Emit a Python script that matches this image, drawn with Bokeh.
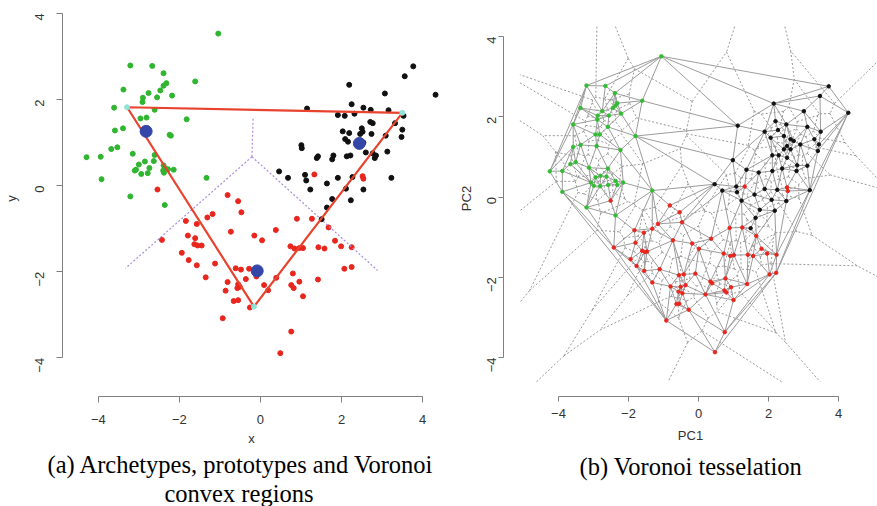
import math
from bokeh.plotting import figure
from bokeh.models import Range1d, FixedTicker, Title
from bokeh.layouts import row
from bokeh.embed import file_html
from bokeh.resources import INLINE

# ---------------- Panel (a) data ----------------
green_x = [-1.04, -3.21, -2.67, -2.39, -2.32, -2.39, -2.47, -1.61, -3.38, -2.76, -2.90, -2.91, -2.55, -2.18,
           -3.61, -2.61, -2.96, -2.81, -1.82, -3.59, -3.39, -2.24, -2.21, -3.68, -3.53, -4.29, -3.94, -3.15,
           -2.61, -3.00, -2.85, -3.10, -3.07, -2.63, -2.74, -2.94, -2.78, -2.39, -2.40, -2.35, -2.38, -2.28,
           -2.14, -3.92, -1.33, -3.21, -2.36]
green_y = [3.53, 2.79, 2.78, 2.61, 2.38, 2.32, 2.21, 2.42, 2.23, 2.15, 2.04, 1.94, 2.05, 2.09,
           1.81, 1.76, 1.56, 1.58, 1.54, 1.28, 1.33, 1.18, 1.16, 0.85, 0.89, 0.66, 0.67, 0.74,
           0.71, 0.49, 0.56, 0.35, 0.37, 0.57, 0.41, 0.27, 0.29, 0.47, 0.35, 0.40, 0.30, 0.38,
           0.37, 0.15, 0.18, -0.25, -0.45]

black_x = [3.77, 3.56, 2.19, 4.32, 3.07, 1.15, 2.25, 2.54, 2.72, 3.16, 1.91, 2.08, 2.32, 3.53, 2.71, 2.77,
           3.32, 2.50, 2.52, 2.46, 2.03, 2.19, 2.74, 3.09, 3.50, 3.48, 2.09, 2.16, 1.01, 1.02, 2.54, 2.60,
           2.77, 2.85, 2.82, 3.13, 1.42, 1.39, 1.80, 1.77, 2.13, 2.22, 0.46, 0.68, 1.10, 1.13, 1.64, 1.91,
           2.27, 3.23, 1.23, 2.11, 2.54, 1.77, 2.23, 1.64, 1.51]
black_y = [2.77, 2.54, 2.34, 2.11, 2.14, 1.79, 1.89, 1.81, 1.76, 1.75, 1.64, 1.62, 1.67, 1.62, 1.48, 1.45,
           1.45, 1.33, 1.25, 1.20, 1.26, 1.22, 1.20, 1.16, 1.30, 1.13, 1.08, 1.02, 0.94, 0.87, 1.00, 0.77,
           0.75, 0.70, 0.64, 0.79, 0.68, 0.64, 0.70, 0.61, 0.68, 0.70, 0.33, 0.18, 0.25, 0.12, 0.05, 0.18,
           0.20, 0.18, -0.09, -0.07, -0.09, -0.31, -0.34, -0.51, -0.78]

red_x = [-2.54, -0.81, -0.55, -0.47, -1.18, -1.31, -1.84, -1.57, -1.79, -1.61, -1.63, -1.55, -1.45, -2.43,
         -0.73, -0.15, 0.04, 0.38, -1.94, 0.90, 1.27, 1.68, 1.33, 2.52, 2.54, 0.74, 0.84, 0.96, 1.05, 1.43,
         1.58, 1.84, 1.99, 2.25, -1.77, -1.57, -1.12, -1.35, -0.61, -0.48, -0.28, -0.10, -0.36, -0.81,
         -0.55, -0.51, -0.57, -0.86, -0.66, -0.55, -0.26, -0.93, 0.09, 0.19, 0.39, 0.80, 0.96, 0.76, 0.82,
         1.05, 1.42, 2.07, 2.25, 0.76, 0.49]
red_y = [-0.09, -0.22, -0.36, -0.62, -0.66, -0.74, -0.82, -0.89, -1.16, -1.22, -1.36, -1.39, -1.39, -1.26,
         -1.07, -1.16, -1.27, -1.03, -1.56, -0.77, -0.77, -0.97, 0.26, 0.22, 0.16, -1.41, -1.46, -1.45, -1.45,
         -1.43, -1.46, -1.28, -1.41, -1.43, -1.73, -1.85, -1.81, -2.13, -1.92, -1.95, -1.93, -2.11, -2.17,
         -2.24, -2.29, -2.35, -2.38, -2.44, -2.68, -2.66, -2.83, -3.08, -2.31, -2.43, -2.14, -2.04, -2.23,
         -2.31, -2.38, -2.57, -2.18, -1.93, -1.89, -3.39, -3.89]

prototype_x = [-2.82, 2.44, -0.08]
prototype_y = [1.26, 0.98, -1.98]
archetype_x = [-3.29, 3.50, -0.16]
archetype_y = [1.82, 1.69, -2.81]
voronoi_center = (-0.21, 0.67)
voronoi_end_x = [-0.18, -3.33, 2.89]
voronoi_end_y = [1.58, -1.92, -1.97]

# ---------------- Panel (b) data ----------------
pc_green_x = [-1.06, -3.20, -2.66, -2.39, -2.32, -2.37, -2.45, -1.61, -3.37, -2.75, -2.88, -2.89, -2.56, -2.21,
              -3.58, -2.59, -2.94, -2.82, -1.80, -3.58, -3.37, -2.91, -2.23, -4.25, -3.89, -3.66, -3.51, -3.13,
              -2.59, -3.07, -2.94, -2.80, -2.63, -2.99, -2.81, -2.58, -2.37, -2.32, -2.15, -3.89, -3.20, -2.37,
              -1.32]
pc_green_y = [3.51, 2.78, 2.77, 2.59, 2.34, 2.28, 2.22, 2.40, 2.22, 2.14, 2.03, 1.93, 2.03, 2.08,
              1.81, 1.75, 1.56, 1.56, 1.52, 1.25, 1.30, 1.27, 1.17, 0.64, 0.65, 0.82, 0.87, 0.73,
              0.71, 0.36, 0.49, 0.53, 0.51, 0.28, 0.27, 0.30, 0.40, 0.30, 0.36, 0.13, -0.26, -0.46,
              0.16]
pc_black_x = [3.72, 3.47, 4.28, 2.15, 3.01, 1.12, 2.20, 2.51, 3.11, 3.49, 1.89, 2.27, 2.06, 2.44, 2.63, 2.72,
              2.53, 2.44, 2.63, 2.91, 3.31, 3.44, 3.41, 2.11, 2.29, 2.53, 2.82, 2.80, 3.11, 0.98, 1.37, 1.72,
              2.11, 2.39, 0.46, 0.68, 1.08, 1.10, 1.23, 1.60, 1.89, 2.25, 3.18, 2.09, 2.51, 1.75, 2.18, 1.63,
              1.49]
pc_black_y = [2.76, 2.52, 2.10, 2.33, 2.14, 1.78, 1.89, 1.81, 1.75, 1.63, 1.63, 1.67, 1.48, 1.52, 1.44, 1.40,
              1.27, 1.19, 1.19, 1.31, 1.44, 1.31, 1.15, 1.04, 1.04, 0.98, 0.79, 0.65, 0.78, 0.92, 0.68, 0.61,
              0.65, 0.71, 0.32, 0.16, 0.26, 0.12, -0.09, 0.06, 0.20, 0.18, 0.17, -0.07, -0.10, -0.32, -0.34, -0.52,
              -0.78]
pc_red_x = [-2.51, -0.82, -0.54, -0.47, -1.16, -1.32, -1.83, -1.56, -0.73, -1.80, -1.61, -1.53, -1.47, -2.42,
            -1.94, -1.77, -1.55, -1.11, -1.32, -0.56, -0.42, -0.37, -0.51, -0.57, -0.46, -0.80, -0.63, -0.55,
            -0.92, -0.28, 1.32, 2.53, 2.55, 0.89, 1.25, 1.65, 0.36, 0.01, -0.18, 0.72, 0.91, 1.01, 1.41, 1.56,
            1.80, 1.96, 2.23, 2.03, 2.22, -0.09, 0.34, 0.39, 0.77, 1.39, 0.93, 0.74, 0.80, 0.20, 1.00, 0.75,
            0.47]
pc_red_y = [-0.09, -0.21, -0.38, -0.63, -0.67, -0.79, -0.83, -0.89, -1.08, -1.14, -1.34, -1.37, -1.36, -1.26,
            -1.55, -1.72, -1.84, -1.80, -2.13, -1.95, -1.93, -2.20, -2.24, -2.36, -2.40, -2.23, -2.67, -2.66,
            -3.08, -2.81, 0.26, 0.24, 0.15, -0.77, -0.76, -0.97, -1.04, -1.29, -1.16, -1.41, -1.47, -1.45, -1.44,
            -1.47, -1.29, -1.41, -1.44, -1.93, -1.89, -1.91, -2.11, -2.15, -2.03, -2.17, -2.25, -2.33, -2.38,
            -2.43, -2.57, -3.37, -3.87]

ticks = [-4, -2, 0, 2, 4]
tick_labels = {-4: "\u22124", -2: "\u22122", 0: "0", 2: "2", 4: "4"}


# ---------------- geometry helpers (computed from the points) ----------------
def delaunay(px, py):
    n = len(px)
    P = [(float(a), float(b)) for a, b in zip(px, py)]
    minx, maxx, miny, maxy = min(px), max(px), min(py), max(py)
    d = max(maxx - minx, maxy - miny) * 50.0
    mx, my = (minx + maxx) / 2.0, (miny + maxy) / 2.0
    P += [(mx - d, my - d), (mx + d, my - d), (mx, my + d)]

    def circ(t):
        (ax, ay), (bx, by), (cx, cy) = P[t[0]], P[t[1]], P[t[2]]
        D = 2.0 * (ax * (by - cy) + bx * (cy - ay) + cx * (ay - by))
        if abs(D) < 1e-12:
            return (0.0, 0.0, float("inf"))
        a2, b2, c2 = ax * ax + ay * ay, bx * bx + by * by, cx * cx + cy * cy
        ux = (a2 * (by - cy) + b2 * (cy - ay) + c2 * (ay - by)) / D
        uy = (a2 * (cx - bx) + b2 * (ax - cx) + c2 * (bx - ax)) / D
        return (ux, uy, (ax - ux) ** 2 + (ay - uy) ** 2)

    tris = {(n, n + 1, n + 2): circ((n, n + 1, n + 2))}
    for i in range(n):
        x, y = P[i]
        bad = [t for t, (ux, uy, r2) in tris.items() if (x - ux) ** 2 + (y - uy) ** 2 < r2]
        cnt = {}
        for t in bad:
            for e in ((t[0], t[1]), (t[1], t[2]), (t[2], t[0])):
                k = (min(e), max(e))
                cnt[k] = cnt.get(k, 0) + 1
            del tris[t]
        for (a, b), c in cnt.items():
            if c == 1:
                t = (a, b, i)
                tris[t] = circ(t)
    return P, [(t, c) for t, c in tris.items() if max(t) < n and c[2] != float("inf")]


def clip(x0, y0, x1, y1, xmin, xmax, ymin, ymax):
    dx, dy = x1 - x0, y1 - y0
    t0, t1 = 0.0, 1.0
    for p, q in ((-dx, x0 - xmin), (dx, xmax - x0), (-dy, y0 - ymin), (dy, ymax - y0)):
        if p == 0:
            if q < 0:
                return None
        else:
            r = q / p
            if p < 0:
                if r > t1:
                    return None
                t0 = max(t0, r)
            else:
                if r < t0:
                    return None
                t1 = min(t1, r)
    return (x0 + t0 * dx, y0 + t0 * dy, x0 + t1 * dx, y0 + t1 * dy)


def tessellation(px, py):
    P, tri = delaunay(px, py)
    dx, dy = max(px) - min(px), max(py) - min(py)
    rw = (min(px) - 0.1 * dx, max(px) + 0.1 * dx, min(py) - 0.1 * dy, max(py) + 0.1 * dy)
    edge_tris = {}
    for idx, (t, c) in enumerate(tri):
        for e in ((t[0], t[1]), (t[1], t[2]), (t[2], t[0])):
            edge_tris.setdefault((min(e), max(e)), []).append(idx)
    dxs, dys, vxs, vys = [], [], [], []
    for (a, b), lst in edge_tris.items():
        dxs.append([P[a][0], P[b][0]])
        dys.append([P[a][1], P[b][1]])
        if len(lst) == 2:
            c1, c2 = tri[lst[0]][1], tri[lst[1]][1]
            seg = (c1[0], c1[1], c2[0], c2[1])
        else:
            t, c = tri[lst[0]]
            o = [v for v in t if v != a and v != b][0]
            ex, ey = P[b][0] - P[a][0], P[b][1] - P[a][1]
            nx, ny = -ey, ex
            mx, my = (P[a][0] + P[b][0]) / 2, (P[a][1] + P[b][1]) / 2
            if (mx - P[o][0]) * nx + (my - P[o][1]) * ny < 0:
                nx, ny = -nx, -ny
            L = math.hypot(nx, ny)
            seg = (c[0], c[1], c[0] + nx / L * 100, c[1] + ny / L * 100)
        s = clip(*seg, *rw)
        if s is not None:
            vxs.append([s[0], s[2]])
            vys.append([s[1], s[3]])
    return dxs, dys, vxs, vys


# ---------------- styling ----------------
def style_axes(p, xlab, ylab, tick_out, xs_tick, xs_lab, ys_tick, ys_lab, fs):
    p.outline_line_color = None
    p.xgrid.visible = False
    p.ygrid.visible = False
    p.background_fill_color = "white"
    p.border_fill_color = "white"
    p.xaxis.axis_label = xlab
    p.yaxis.axis_label = ylab
    for ax in (p.xaxis[0], p.yaxis[0]):
        ax.ticker = FixedTicker(ticks=ticks)
        ax.bounds = (-4, 4)
        ax.major_label_overrides = tick_labels
        ax.minor_tick_line_color = None
        ax.axis_line_color = "#808080"
        ax.major_tick_line_color = "#808080"
        ax.major_tick_out = tick_out
        ax.major_tick_in = 0
        ax.major_label_text_font = "Liberation Sans"
        ax.major_label_text_font_size = fs
        ax.major_label_text_color = "#333333"
        ax.axis_label_text_font = "Liberation Sans"
        ax.axis_label_text_font_size = fs
        ax.axis_label_text_font_style = "normal"
        ax.axis_label_text_color = "#333333"
    p.xaxis.major_label_standoff = xs_tick
    p.xaxis.axis_label_standoff = xs_lab
    p.yaxis.major_label_standoff = ys_tick
    p.yaxis.axis_label_standoff = ys_lab
    p.yaxis.major_label_orientation = math.pi / 2


def caption(p, lines, offsets, standoffs):
    for text, off, so in zip(lines, offsets, standoffs):
        t = Title(text=text, align="left", offset=off, standoff=so,
                  text_font="Liberation Serif", text_font_size="24.5px",
                  text_font_style="normal", text_color="black")
        p.add_layout(t, "below")


# ---------------- panel (a) ----------------
p1 = figure(width=445, height=506, x_range=Range1d(-4.883, 4.442), y_range=Range1d(-4.897, 4.299),
            output_backend="svg", toolbar_location=None,
            min_border_left=60, min_border_right=5, min_border_top=0, min_border_bottom=106)
style_axes(p1, "x", "y", 6, 12, 4, 17, 9, "13px")

p1.scatter(green_x, green_y, size=5, color="#2fb52f")
p1.scatter(black_x, black_y, size=5, color="#111111")
p1.scatter(red_x, red_y, size=5, color="#e8261e")

vx = [[voronoi_center[0], ex] for ex in voronoi_end_x]
vy = [[voronoi_center[1], ey] for ey in voronoi_end_y]
p1.multi_line(vx, vy, line_color="#a98be0", line_width=1.2, line_dash="2 2")

p1.line(archetype_x + archetype_x[:1], archetype_y + archetype_y[:1],
        line_color="#e8432e", line_width=2.2)
p1.scatter(archetype_x, archetype_y, size=5, color="#8fe3d8")
p1.scatter(prototype_x, prototype_y, size=12, color="#3446a8")

caption(p1, ["(a) Archetypes, prototypes and Voronoi", "convex regions"], [-15, 102], [0, 0])

# ---------------- panel (b) ----------------
pcx = pc_green_x + pc_black_x + pc_red_x
pcy = pc_green_y + pc_black_y + pc_red_y
del_x, del_y, vor_x, vor_y = tessellation(pcx, pcy)

p2 = figure(width=432, height=506, x_range=Range1d(-5.571, 5.114), y_range=Range1d(-4.975, 4.901),
            output_backend="svg", toolbar_location=None,
            min_border_left=58, min_border_right=0, min_border_top=0, min_border_bottom=107)
style_axes(p2, "PC1", "PC2", 5, 7, 7, 7, 6, "13px")

p2.multi_line(vor_x, vor_y, line_color="#8c8c8c", line_width=0.9, line_dash="2 2")
p2.multi_line(del_x, del_y, line_color="#9c9c9c", line_width=1.0)
p2.scatter(pc_green_x, pc_green_y, size=3.5, color="#33bb33")
p2.scatter(pc_black_x, pc_black_y, size=3.5, color="#111111")
p2.scatter(pc_red_x, pc_red_y, size=3.5, color="#e8261e")

caption(p2, ["(b) Voronoi tesselation"], [76], [10])

layout = row(p1, p2)
open("out.html", "w").write(file_html(layout, INLINE))
